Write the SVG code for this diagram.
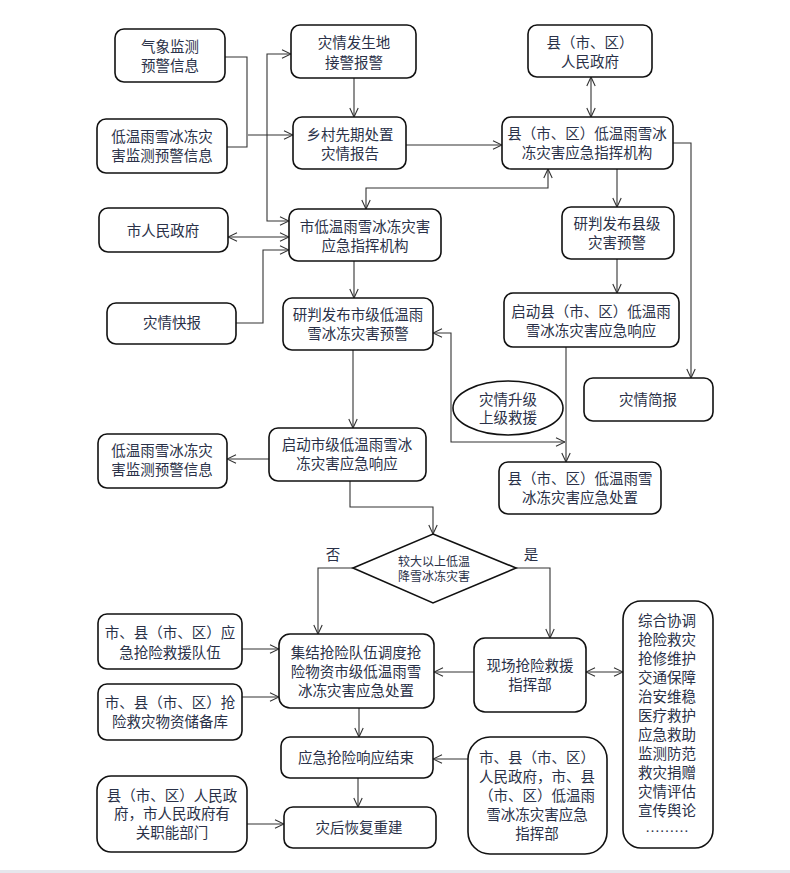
<svg xmlns="http://www.w3.org/2000/svg" width="790" height="873" viewBox="0 0 790 873">
<style>
.b{fill:#fff;stroke:#111;stroke-width:1.6}
.t{font-family:"Liberation Serif","Noto Sans CJK SC",serif;font-size:14.5px;fill:#2a3148;text-anchor:middle;dominant-baseline:central}
.s{font-size:12px}
.c path{fill:none;stroke:#333;stroke-width:1.1}
.e{marker-end:url(#ah)}
.d{marker-start:url(#ah);marker-end:url(#ah)}
</style>
<defs>
<marker id="ah" viewBox="0 0 10 10" refX="10" refY="5" markerWidth="10" markerHeight="10" markerUnits="userSpaceOnUse" orient="auto-start-reverse">
<path d="M1,0.8 L10,5 L1,9.2" fill="none" stroke="#333" stroke-width="1.1"/>
</marker>
</defs>
<rect width="790" height="873" fill="#fff"/>
<rect x="0" y="870" width="790" height="3" fill="#e6e6ec"/>

<g class="c">
<path d="M225,57 L247,57 L247,147 L227,147"/>
<path class="e" d="M248,135 L293,135"/>
<path class="d" d="M291,54 L267,54 L267,221 L289,221"/>
<path class="d" d="M228,237 L289,237"/>
<path class="e" d="M236,323 L263,323 L263,250 L289,250"/>
<path class="e" d="M354,78 L354,117"/>
<path class="e" d="M406,145 L502,145"/>
<path class="d" d="M591,77 L591,117"/>
<path class="d" d="M366,209 L366,188 L548,188 L548,169"/>
<path class="e" d="M617,169 L617,207"/>
<path class="e" d="M673,143 L691,143 L691,378"/>
<path class="e" d="M617,259 L617,293"/>
<path class="e" d="M566,347 L566,462"/>
<path class="d" d="M433,333 L451,333 L451,442 L565,442"/>
<path class="e" d="M354,261 L354,298"/>
<path class="e" d="M353,350 L353,428"/>
<path class="e" d="M269,459 L227,459"/>
<path class="e" d="M350,481 L350,507 L433,507 L433,534"/>
<path class="e" d="M353,568 L318,568 L318,634"/>
<path class="e" d="M516,568 L550,568 L550,638"/>
<path class="e" d="M242,649 L279,649"/>
<path class="e" d="M242,697 L279,697"/>
<path class="e" d="M474,672 L434,672"/>
<path class="d" d="M586,672 L623,672"/>
<path class="e" d="M359,708 L359,737"/>
<path class="e" d="M358,778 L358,807"/>
<path class="e" d="M247,824 L284,824"/>
<path class="e" d="M468,759 L433,759"/>
</g>

<g id="qixiang"><rect class="b" x="115" y="29" width="110" height="53" rx="9"/><text class="t" x="170" y="47">气象监测</text><text class="t" x="170" y="66">预警信息</text></g>
<g id="diwen1"><rect class="b" x="97" y="119" width="130" height="54" rx="9"/><text class="t" x="162" y="137">低温雨雪冰冻灾</text><text class="t" x="162" y="156">害监测预警信息</text></g>
<g id="shirenmin"><rect class="b" x="99" y="208" width="129" height="44" rx="9"/><text class="t" x="163" y="231">市人民政府</text></g>
<g id="kuaibao"><rect class="b" x="107" y="303" width="129" height="41" rx="9"/><text class="t" x="172" y="323">灾情快报</text></g>
<g id="fasheng"><rect class="b" x="291" y="25" width="125" height="53" rx="9"/><text class="t" x="354" y="43">灾情发生地</text><text class="t" x="354" y="63">接警报警</text></g>
<g id="xiangcun"><rect class="b" x="293" y="117" width="113" height="52" rx="9"/><text class="t" x="350" y="135">乡村先期处置</text><text class="t" x="350" y="154">灾情报告</text></g>
<g id="shizhihui"><rect class="b" x="289" y="209" width="152" height="52" rx="9"/><text class="t" x="365" y="227">市低温雨雪冰冻灾害</text><text class="t" x="365" y="246">应急指挥机构</text></g>
<g id="yanpanshi"><rect class="b" x="283" y="298" width="150" height="52" rx="9"/><text class="t" x="358" y="315">研判发布市级低温雨</text><text class="t" x="358" y="334">雪冰冻灾害预警</text></g>
<g id="qidongshi"><rect class="b" x="269" y="428" width="157" height="53" rx="9"/><text class="t" x="347" y="445">启动市级低温雨雪冰</text><text class="t" x="347" y="464">冻灾害应急响应</text></g>
<g id="diwen2"><rect class="b" x="98" y="434" width="129" height="54" rx="9"/><text class="t" x="162" y="451">低温雨雪冰冻灾</text><text class="t" x="162" y="470">害监测预警信息</text></g>
<g id="xianrenmin"><rect class="b" x="528" y="25" width="124" height="52" rx="9"/><text class="t" x="590" y="43">县（市、区）</text><text class="t" x="590" y="62">人民政府</text></g>
<g id="xianzhihui"><rect class="b" x="502" y="117" width="171" height="52" rx="9"/><text class="t" x="587" y="134">县（市、区）低温雨雪冰</text><text class="t" x="587" y="153">冻灾害应急指挥机构</text></g>
<g id="yanpanxian"><rect class="b" x="562" y="207" width="112" height="52" rx="9"/><text class="t" x="617" y="224">研判发布县级</text><text class="t" x="617" y="243">灾害预警</text></g>
<g id="qidongxian"><rect class="b" x="504" y="293" width="175" height="54" rx="9"/><text class="t" x="591" y="312">启动县（市、区）低温雨</text><text class="t" x="591" y="331">雪冰冻灾害应急响应</text></g>
<g id="jianbao"><rect class="b" x="584" y="378" width="129" height="43" rx="9"/><text class="t" x="648" y="400">灾情简报</text></g>
<g id="shengji"><ellipse class="b" cx="508" cy="408" rx="55" ry="27"/><text class="t" x="508" y="400">灾情升级</text><text class="t" x="508" y="418">上级救援</text></g>
<g id="xianchuzhi"><rect class="b" x="499" y="462" width="162" height="52" rx="9"/><text class="t" x="580" y="479">县（市、区）低温雨雪</text><text class="t" x="580" y="498">冰冻灾害应急处置</text></g>
<g id="panduan"><path class="b" d="M433,534 L516,568 L433,603 L353,568 Z"/><text class="t s" x="434" y="562">较大以上低温</text><text class="t s" x="434" y="577">降雪冰冻灾害</text></g>
<text class="t" x="333" y="555">否</text>
<text class="t" x="531" y="555">是</text>
<g id="duiwu"><rect class="b" x="98" y="614" width="144" height="55" rx="9"/><text class="t" x="170" y="633">市、县（市、区）应</text><text class="t" x="170" y="653">急抢险救援队伍</text></g>
<g id="wuzi"><rect class="b" x="98" y="684" width="144" height="56" rx="9"/><text class="t" x="170" y="703">市、县（市、区）抢</text><text class="t" x="170" y="722">险救灾物资储备库</text></g>
<g id="jijie"><rect class="b" x="279" y="634" width="155" height="74" rx="11"/><text class="t" x="356" y="653">集结抢险队伍调度抢</text><text class="t" x="356" y="672">险物资市级低温雨雪</text><text class="t" x="356" y="691">冰冻灾害应急处置</text></g>
<g id="xianchang"><rect class="b" x="474" y="638" width="112" height="74" rx="11"/><text class="t" x="530" y="666">现场抢险救援</text><text class="t" x="530" y="685">指挥部</text></g>
<g id="zonghe"><rect class="b" x="623" y="601" width="90" height="247" rx="18"/>
<text class="t" x="667" y="621">综合协调</text><text class="t" x="667" y="640">抢险救灾</text><text class="t" x="667" y="659">抢修维护</text><text class="t" x="667" y="678">交通保障</text><text class="t" x="667" y="697">治安维稳</text><text class="t" x="667" y="716">医疗救护</text><text class="t" x="667" y="735">应急救助</text><text class="t" x="667" y="754">监测防范</text><text class="t" x="667" y="773">救灾捐赠</text><text class="t" x="667" y="792">灾情评估</text><text class="t" x="667" y="811">宣传舆论</text><text class="t" x="667" y="827">………</text></g>
<g id="jieshu"><rect class="b" x="281" y="737" width="152" height="41" rx="9"/><text class="t" x="356" y="758">应急抢险响应结束</text></g>
<g id="zaihou"><rect class="b" x="284" y="807" width="152" height="41" rx="9"/><text class="t" x="359" y="828">灾后恢复重建</text></g>
<g id="youguan"><rect class="b" x="97" y="776" width="150" height="76" rx="14"/><text class="t" x="172" y="796">县（市、区）人民政</text><text class="t" x="172" y="814">府，市人民政府有</text><text class="t" x="172" y="833">关职能部门</text></g>
<g id="zhihuibu"><rect class="b" x="468" y="737" width="139" height="117" rx="22"/><text class="t" x="537" y="758">市、县（市、区）</text><text class="t" x="537" y="777">人民政府，市、县</text><text class="t" x="537" y="796">（市、区）低温雨</text><text class="t" x="537" y="815">雪冰冻灾害应急</text><text class="t" x="537" y="834">指挥部</text></g>
</svg>
